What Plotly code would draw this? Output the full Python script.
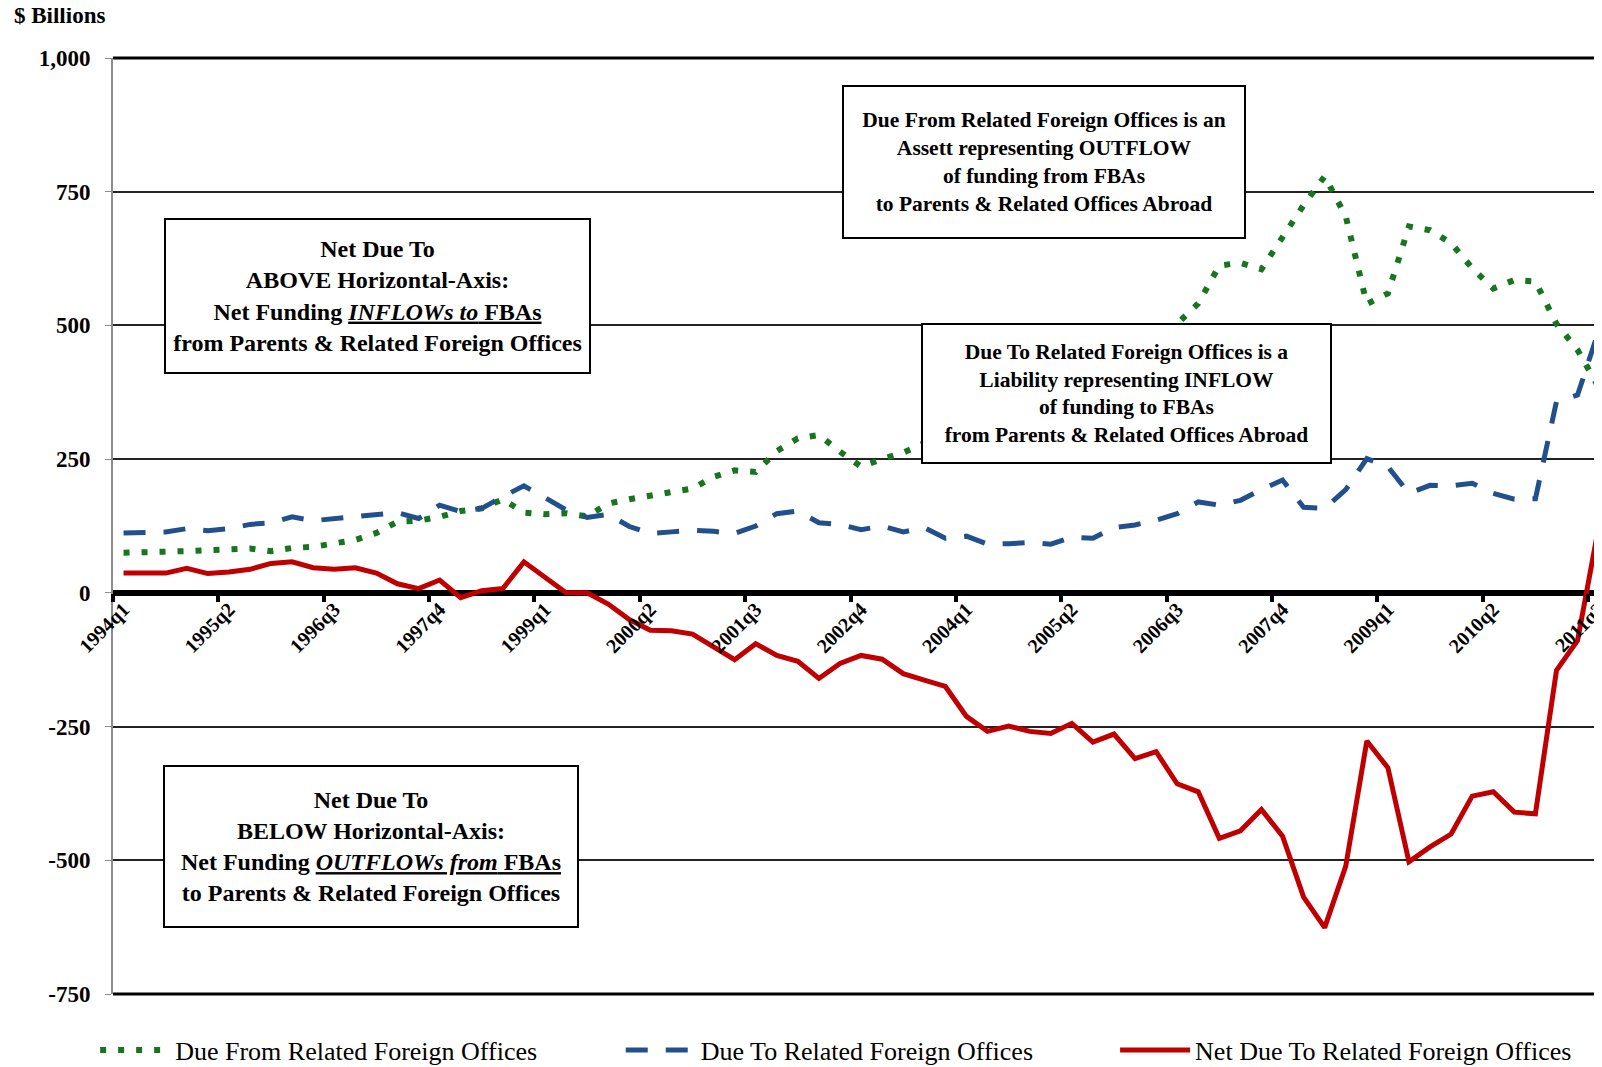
import plotly.graph_objects as go

# quarterly categories 1994q1 .. 2011q3
quarters = [f"{y}q{q}" for y in range(1994, 2012) for q in range(1, 5)][:71]

# $ billions
due_from = [75, 75, 77, 78, 80, 82, 83, 78, 84, 86,
            92, 99, 112, 133, 135, 142, 153, 158, 175, 150,
            147, 149, 143, 167, 175, 181, 187, 195, 217, 229,
            226, 265, 289, 295, 264, 236, 250, 262, 280, 277,
            337, 350, 341, 352, 354, 348, 381, 385, 436, 433,
            503, 541, 612, 617, 605, 667, 725, 779, 704, 540,
            560, 685, 678, 654, 607, 569, 585, 582, 503, 454,
            385]

due_to = [112, 112, 114, 120, 116, 120, 128, 131, 142, 135,
          139, 143, 148, 150, 139, 164, 152, 158, 180, 200,
          178, 155, 141, 147, 124, 111, 114, 117, 115, 111,
          125, 148, 153, 131, 128, 118, 125, 114, 122, 102,
          106, 91, 92, 94, 91, 104, 102, 122, 127, 136,
          148, 170, 164, 173, 193, 211, 160, 158, 193, 251,
          236, 186, 201, 200, 205, 186, 175, 176, 358, 370,
          490]

net_due_to = [37, 37, 37, 46, 36, 39, 44, 55, 58, 47,
              44, 47, 37, 17, 8, 24, -9, 4, 8, 58,
              30, 0, 0, -21, -50, -70, -71, -77, -101, -125,
              -95, -117, -128, -160, -132, -117, -124, -151, -163, -175,
              -231, -259, -249, -259, -263, -244, -279, -264, -310, -297,
              -357, -372, -459, -445, -405, -455, -569, -626, -511, -277,
              -327, -503, -475, -451, -380, -372, -410, -413, -145, -89,
              123]

y_ticks = [-750, -500, -250, 0, 250, 500, 750, 1000]
y_tick_text = ["-750", "-500", "-250", "0", "250", "500", "750", "1,000"]

FONT = "Liberation Serif, Times New Roman, serif"
GREEN = "#17751D"
BLUE = "#22508C"
RED = "#C00000"

fig = go.Figure()

fig.add_trace(go.Scatter(
    x=quarters, y=due_from, mode="lines", name="Due From Related Foreign Offices",
    line=dict(color=GREEN, width=6, dash="6px,12px"), legend="legend"))
fig.add_trace(go.Scatter(
    x=quarters, y=due_to, mode="lines", name="Due To Related Foreign Offices",
    line=dict(color=BLUE, width=5, dash="22px,18px"), legend="legend2"))
fig.add_trace(go.Scatter(
    x=quarters, y=net_due_to, mode="lines", name="Net Due To Related Foreign Offices",
    line=dict(color=RED, width=5), legend="legend3"))

legend_style = dict(orientation="h", yanchor="middle", y=-0.06, xanchor="left",
                    font=dict(family=FONT, size=26, color="black"),
                    itemwidth=70, bgcolor="rgba(0,0,0,0)")

# the page body adds an 8px offset, so the figure is 8px smaller each way
fig.update_layout(
    width=1594, height=1059,
    margin=dict(l=105, r=0, t=50, b=73, autoexpand=False),
    plot_bgcolor="white", paper_bgcolor="white",
    font=dict(family=FONT, color="black"),
    showlegend=True,
    legend=dict(legend_style, x=-0.012),
    legend2=dict(legend_style, x=0.341),
    legend3=dict(legend_style, x=0.673),
    xaxis=dict(
        type="category", categoryorder="array", categoryarray=quarters,
        range=[-0.5, 70.16], anchor="free", position=750 / 1750,
        tickmode="linear", tick0=0, dtick=5, tickson="boundaries",
        ticks="outside", ticklen=8, tickwidth=4, tickcolor="black",
        tickangle=-45, tickfont=dict(family=FONT, size=20, weight="bold"),
        showgrid=False, zeroline=False, showline=False,
    ),
    yaxis=dict(
        range=[-750, 1000], tickmode="array", tickvals=y_ticks, ticktext=y_tick_text,
        tickfont=dict(family=FONT, size=23, weight="bold"), ticklabelstandoff=10,
        showgrid=True, gridcolor="#222222", gridwidth=1.5,
        zeroline=True, zerolinecolor="black", zerolinewidth=6,
        showline=True, linecolor="#8c8c8c", linewidth=2,
        ticks="outside", ticklen=6, tickcolor="#8c8c8c",
    ),
    shapes=[
        dict(type="line", xref="paper", yref="paper", x0=0, x1=1, y0=1, y1=1,
             line=dict(color="black", width=3)),
        dict(type="line", xref="paper", yref="paper", x0=0, x1=1, y0=0, y1=0,
             line=dict(color="black", width=3)),
    ],
)

box_font = dict(family=FONT, color="black", weight="bold")


def text_box(x, y, w, h, text, size):
    fig.add_annotation(
        xref="paper", yref="paper", x=x, y=y, xanchor="left", yanchor="top",
        width=w, height=h, text=text, showarrow=False, align="center",
        valign="middle", bgcolor="white", bordercolor="black", borderwidth=2,
        borderpad=0, font=dict(box_font, size=size))


text_box(0.4894, 0.9712, 400, 150,
         "Due From Related Foreign Offices is an<br>Assett representing OUTFLOW<br>"
         "of funding from FBAs<br>to Parents &amp; Related Offices Abroad", 21.5)
text_box(0.5426, 0.7169, 407, 137,
         "Due To Related Foreign Offices is a<br>Liability representing INFLOW<br>"
         "of funding to FBAs<br>from Parents &amp; Related Offices Abroad", 21.5)
text_box(0.0342, 0.8291, 423, 152,
         "Net Due To<br>ABOVE Horizontal-Axis:<br>Net Funding <u><i>INFLOWs to</i> FBAs</u>"
         "<br>from Parents &amp; Related Foreign Offices", 24)
text_box(0.0338, 0.2447, 412, 159,
         "Net Due To<br>BELOW Horizontal-Axis:<br>Net Funding <u><i>OUTFLOWs from</i> FBAs</u>"
         "<br>to Parents &amp; Related Foreign Offices", 24)

fig.add_annotation(xref="paper", yref="paper", x=-0.0678, y=1.045, xanchor="left",
                   yanchor="middle", text="$ Billions", showarrow=False,
                   font=dict(family=FONT, size=23, color="black", weight="bold"))

fig.write_html("out.html")
